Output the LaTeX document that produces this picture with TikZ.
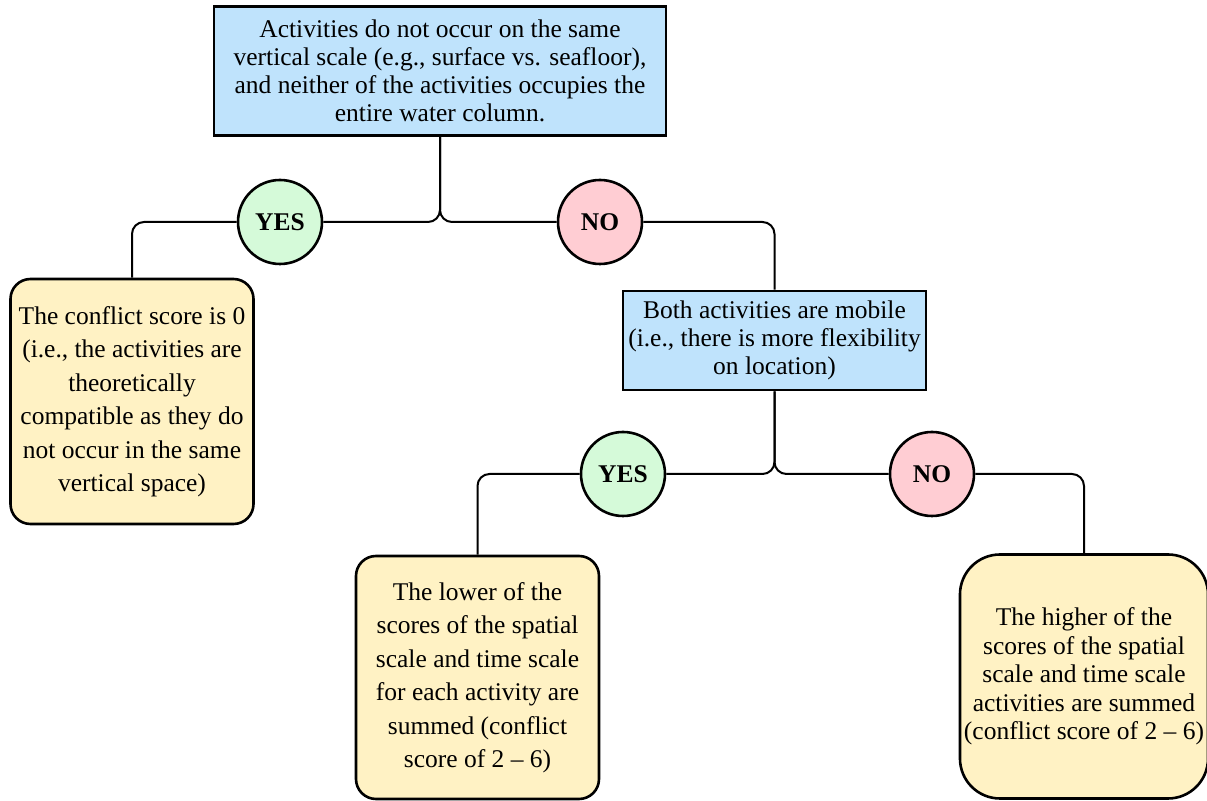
\documentclass[tikz,border=0pt]{standalone}
\usepackage{fontspec}
\setmainfont{Liberation Serif}
\definecolor{qblue}{HTML}{BFE3FC}
\definecolor{ansyel}{HTML}{FFF2C4}
\definecolor{yesgreen}{HTML}{D5FAD9}
\definecolor{nopink}{HTML}{FFCDD3}
\tikzset{
  question/.style={draw, line width=1.3pt, fill=qblue, align=center, inner sep=2pt,
    font=\fontsize{12.75}{14}\selectfont},
  answer/.style={draw, line width=1.3pt, fill=ansyel, align=center, rounded corners=10pt, inner sep=2pt,
    font=\fontsize{12.75}{16.75}\selectfont},
  choice/.style={draw, circle, line width=1.3pt, minimum size=42pt, inner sep=0pt,
    font=\fontsize{12.75}{14}\selectfont\bfseries},
  link/.style={line width=1pt, rounded corners=6pt}
}
\begin{document}
\begin{tikzpicture}[x=0.5pt,y=-0.5pt]
\useasboundingbox (0,0) rectangle (1207,801);
\node[question, minimum width=226pt, minimum height=64.5pt] (vert) at (440,71)
  {Activities do not occur on the same\\ vertical scale (e.g., surface vs. seafloor),\\
   and neither of the activities occupies the\\ entire water column.};
\node[choice, fill=yesgreen] (yesA) at (280,222) {YES};
\node[choice, fill=nopink] (noA) at (600,222) {NO};
\node[answer, minimum width=121.5pt, minimum height=122.5pt] (zero) at (132,401.5)
  {The conflict score is 0\\ (i.e., the activities are\\ theoretically\\
   compatible as they do\\ not occur in the same\\ vertical space)};
\node[question, minimum width=151.5pt, minimum height=49.5pt] (mobile) at (774.5,340.5)
  {Both activities are mobile\\ (i.e., there is more flexibility\\ on location)};
\node[choice, fill=yesgreen] (yesB) at (623,474) {YES};
\node[choice, fill=nopink] (noB) at (932,474) {NO};
\node[answer, minimum width=121.5pt, minimum height=121.5pt] (lower) at (477.5,677.5)
  {The lower of the\\ scores of the spatial\\ scale and time scale\\
   for each activity are\\ summed (conflict\\ score of 2 -- 6)};
\node[answer, rounded corners=20pt, minimum width=121pt, minimum height=122pt,
  font=\fontsize{12.75}{14.25}\selectfont] (higher) at (1084,676.5)
  {The higher of the\\ scores of the spatial\\ scale and time scale\\
   activities are summed\\ (conflict score of 2 -- 6)};

\draw[link] (vert.south) |- (yesA.east);
\draw[link] (vert.south) |- (noA.west);
\draw[link] (yesA.west) -| (zero.north);
\draw[link] (noA.east) -| (mobile.north);
\draw[link] (mobile.south) |- (yesB.east);
\draw[link] (mobile.south) |- (noB.west);
\draw[link] (yesB.west) -| (lower.north);
\draw[link] (noB.east) -| (higher.north);
\end{tikzpicture}
\end{document}
